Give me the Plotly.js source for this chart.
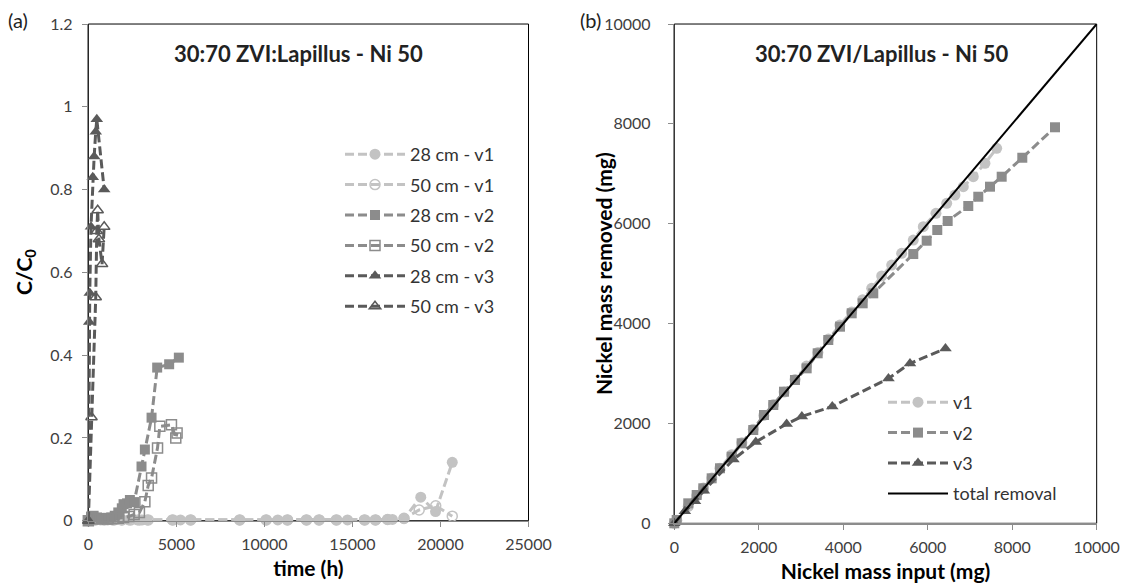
<!DOCTYPE html>
<html><head><meta charset="utf-8">
<script src="https://cdn.plot.ly/plotly-3.0.1.min.js"></script>
<style>html,body{margin:0;padding:0;background:#fff}#chart{width:1124px;height:586px}</style>
</head><body><div id="chart"></div>
<script>
// ---------- Panel (a): C/C0 vs time (h) ----------
const t28v1 = [0, 300, 700, 1100, 1500, 1900, 2300, 2780, 3060, 3340, 4760, 5230, 5830, 8590, 10100, 10760, 11330, 12370, 13120, 14070, 14720, 15670, 16330, 16990, 17270, 17930, 18880, 19720, 20670];
const c28v1 = [0, 0.002, 0.002, 0.002, 0.002, 0.002, 0.002, 0.002, 0.002, 0.002, 0.002, 0.002, 0.002, 0.002, 0.002, 0.002, 0.002, 0.002, 0.002, 0.002, 0.002, 0.002, 0.002, 0.003, 0.003, 0.005, 0.057, 0.022, 0.141];
const t50v1 = [0, 400, 900, 1400, 1900, 2400, 2900, 3400, 4800, 5800, 8600, 10100, 11300, 12400, 13100, 14100, 15700, 16300, 17000, 17930, 18790, 19730, 20670];
const c50v1 = [0, 0.002, 0.002, 0.002, 0.002, 0.002, 0.002, 0.002, 0.002, 0.002, 0.002, 0.002, 0.002, 0.002, 0.002, 0.002, 0.002, 0.002, 0.003, 0.006, 0.026, 0.036, 0.011];
const t28v2 = [0, 150, 300, 500, 700, 900, 1100, 1300, 1500, 1700, 1900, 2000, 2200, 2360, 2600, 3020, 3210, 3590, 3910, 4590, 5140];
const c28v2 = [0, 0.010, 0.012, 0.008, 0.006, 0.006, 0.007, 0.008, 0.012, 0.020, 0.030, 0.040, 0.042, 0.050, 0.045, 0.131, 0.172, 0.249, 0.370, 0.378, 0.394];
const t50v2 = [0, 200, 500, 800, 1100, 1400, 1700, 2000, 2300, 2600, 2900, 3210, 3400, 3590, 3930, 4060, 4720, 4966, 5040];
const c50v2 = [0, 0.005, 0.005, 0.005, 0.004, 0.005, 0.006, 0.008, 0.010, 0.015, 0.020, 0.046, 0.085, 0.103, 0.176, 0.228, 0.232, 0.200, 0.212];
const t28v3 = [0, 50, 80, 150, 250, 330, 420, 480, 900];
const c28v3 = [0, 0.48, 0.55, 0.71, 0.83, 0.88, 0.94, 0.97, 0.80];
const t50v3 = [0, 180, 420, 480, 530, 600, 780, 900];
const c50v3 = [0, 0.25, 0.54, 0.70, 0.75, 0.68, 0.62, 0.71];

// ---------- Panel (b): Nickel mass removed vs input (mg) ----------
const inV1 = [0, 60, 330, 530, 690, 890, 1080, 1360, 1600, 1870, 2120, 2350, 2600, 2860, 3130, 3400, 3650, 3920, 4200, 4460, 4673, 4910, 5147, 5383, 5658, 5895, 6195, 6449, 6645, 6842, 7078, 7355, 7632];
const remV1 = [0, 62, 340, 550, 705, 905, 1105, 1375, 1615, 1885, 2160, 2380, 2630, 2880, 3150, 3420, 3690, 3970, 4230, 4480, 4707, 4953, 5173, 5408, 5674, 5940, 6209, 6409, 6575, 6742, 6942, 7210, 7510];
const inV2 = [0, 57, 331, 530, 687, 885, 1082, 1359, 1595, 1870, 2124, 2344, 2597, 2857, 3134, 3395, 3646, 3923, 4200, 4460, 4711, 5658, 5975, 6226, 6472, 6960, 7197, 7474, 7751, 8239, 9013];
const remV2 = [0, 66, 400, 567, 701, 901, 1102, 1334, 1602, 1869, 2169, 2369, 2636, 2870, 3104, 3405, 3671, 3938, 4206, 4406, 4606, 5393, 5660, 5874, 6055, 6355, 6541, 6742, 6942, 7322, 7932];
const inV3 = [0, 250, 490, 700, 1400, 1930, 2660, 3020, 3740, 5070, 5580, 6420];
const remV3 = [0, 240, 440, 650, 1280, 1630, 1990, 2140, 2340, 2900, 3200, 3500];
const inTotal = [0, 10000];
const remTotal = [0, 10000];

const FONT = "Lato, 'Open Sans', sans-serif";
const C1 = '#c3c3c3', C2 = '#8c8c8c', C3 = '#5a5a5a';
const DASH = '9px,4px';

function tr(x, y, name, color, symbol, size, xa, ya, leg, open) {
  return {
    type: 'scatter', mode: 'lines+markers', x: x, y: y, name: name,
    xaxis: xa, yaxis: ya, legend: leg, legendgroup: name + xa, cliponaxis: false,
    line: {color: color, width: 3, dash: DASH},
    marker: open ? {symbol: symbol, size: size, color: color, line: {color: color, width: 1.5}}
                 : {symbol: symbol, size: size, color: color},
    hoverinfo: 'skip'
  };
}

const data = [
  tr(t28v1, c28v1, '28 cm - v1', C1, 'circle', 11, 'x', 'y', 'legend', false),
  tr(t50v1, c50v1, '50 cm - v1', C1, 'circle-open', 10, 'x', 'y', 'legend', true),
  tr(t28v2, c28v2, '28 cm - v2', C2, 'square', 10, 'x', 'y', 'legend', false),
  tr(t50v2, c50v2, '50 cm - v2', C2, 'square-open', 10, 'x', 'y', 'legend', true),
  tr(t28v3, c28v3, '28 cm - v3', C3, 'triangle-up', 11, 'x', 'y', 'legend', false),
  tr(t50v3, c50v3, '50 cm - v3', C3, 'triangle-up-open', 10, 'x', 'y', 'legend', true),
  tr(inV1, remV1, 'v1', C1, 'circle', 11, 'x2', 'y2', 'legend2', false),
  tr(inV2, remV2, 'v2', C2, 'square', 10, 'x2', 'y2', 'legend2', false),
  tr(inV3, remV3, 'v3', C3, 'triangle-up', 11, 'x2', 'y2', 'legend2', false),
  {type: 'scatter', mode: 'lines', x: inTotal, y: remTotal, name: 'total removal',
   xaxis: 'x2', yaxis: 'y2', legend: 'legend2', legendgroup: 'total',
   line: {color: '#000000', width: 2}, hoverinfo: 'skip'}
];

const tickfont = {family: FONT, size: 16, color: '#404040'};
const axTitleFont = {family: FONT, size: 21, color: '#000'};
const axBase = {
  showline: true, linecolor: '#8c8c8c', linewidth: 1.5, ticks: 'outside', ticklen: 5,
  tickcolor: '#8c8c8c', tickwidth: 1, showgrid: false, zeroline: false, tickfont: tickfont,
  fixedrange: true
};

const layout = {
  width: 1124, height: 586, margin: {l: 0, r: 0, t: 0, b: 0},
  paper_bgcolor: '#fff', plot_bgcolor: '#fff', showlegend: true,
  font: {family: FONT, color: '#333'},
  xaxis: Object.assign({}, axBase, {domain: [0.0786, 0.4702], range: [0, 25000], dtick: 5000, tickformat: 'd', anchor: 'y',
    ticklabelstandoff: 4,
    title: {text: '<b>time (h)</b>', font: axTitleFont, standoff: 9}}),
  yaxis: Object.assign({}, axBase, {domain: [0.1114, 0.959], range: [0, 1.2], dtick: 0.2, anchor: 'x',
    ticklabelstandoff: 6}),
  xaxis2: Object.assign({}, axBase, {domain: [0.5999, 0.9757], range: [0, 10000], dtick: 2000, tickformat: 'd', anchor: 'y2',
    ticklabelstandoff: 4,
    title: {text: '<b>Nickel mass input (mg)</b>', font: axTitleFont, standoff: 9}}),
  yaxis2: Object.assign({}, axBase, {domain: [0.107, 0.959], range: [0, 10000], dtick: 2000, tickformat: 'd', anchor: 'x2',
    ticklabelstandoff: 14}),
  legend: {x: 340 / 1124, y: 1 - 136 / 586, xanchor: 'left', yanchor: 'top', bgcolor: 'rgba(0,0,0,0)',
    font: {family: FONT, size: 18, color: '#333'}, itemwidth: 60, traceorder: 'grouped', tracegroupgap: 4},
  legend2: {x: 883 / 1124, y: 1 - 384 / 586, xanchor: 'left', yanchor: 'top', bgcolor: 'rgba(0,0,0,0)',
    font: {family: FONT, size: 18, color: '#333'}, itemwidth: 60, traceorder: 'grouped', tracegroupgap: 4},
  shapes: [
    {type: 'rect', xref: 'x domain', yref: 'y domain', x0: 0, x1: 1, y0: 0, y1: 1, line: {color: '#000', width: 1}, layer: 'below'},
    {type: 'rect', xref: 'x2 domain', yref: 'y2 domain', x0: 0, x1: 1, y0: 0, y1: 1, line: {color: '#000', width: 1}, layer: 'below'}
  ],
  annotations: [
    {text: '<b>30:70 ZVI:Lapillus - Ni 50</b>', xref: 'paper', yref: 'paper', x: 298 / 1124, y: 1 - 53 / 586,
     xanchor: 'center', yanchor: 'middle', showarrow: false, font: {family: FONT, size: 22, color: '#222'}},
    {text: '<b>30:70 ZVI/Lapillus - Ni 50</b>', xref: 'paper', yref: 'paper', x: 882 / 1124, y: 1 - 53 / 586,
     xanchor: 'center', yanchor: 'middle', showarrow: false, font: {family: FONT, size: 22, color: '#222'}},
    {text: '(a)', xref: 'paper', yref: 'paper', x: 18 / 1124, y: 1 - 20 / 586, xanchor: 'center', yanchor: 'middle',
     showarrow: false, font: {family: FONT, size: 20, color: '#222'}},
    {text: '(b)', xref: 'paper', yref: 'paper', x: 590 / 1124, y: 1 - 20 / 586, xanchor: 'center', yanchor: 'middle',
     showarrow: false, font: {family: FONT, size: 20, color: '#222'}},
    {text: '<b>C/C<sub>0</sub></b>', xref: 'paper', yref: 'paper', x: 25 / 1124, y: 1 - 272 / 586, xanchor: 'center', yanchor: 'middle',
     textangle: -90, showarrow: false, font: axTitleFont},
    {text: '<b>Nickel mass removed (mg)</b>', xref: 'paper', yref: 'paper', x: 603 / 1124, y: 1 - 274 / 586, xanchor: 'center', yanchor: 'middle',
     textangle: -90, showarrow: false, font: axTitleFont}
  ]
};

Plotly.newPlot('chart', data, layout, {staticPlot: true, displayModeBar: false});
</script></body></html>
